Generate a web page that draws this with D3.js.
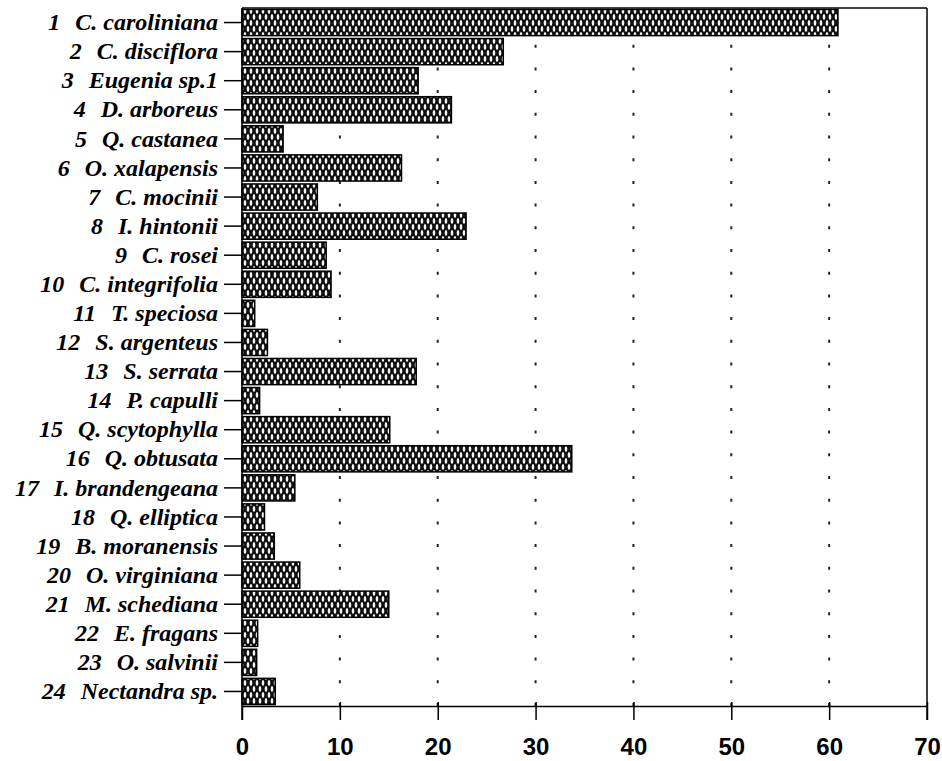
<!DOCTYPE html>
<html>
<head>
<meta charset="utf-8">
<script src="https://cdn.jsdelivr.net/npm/d3@7"></script>
<style>
  html, body { margin: 0; padding: 0; background: #fff; }
  svg { display: block; }
</style>
</head>
<body>
<script>
// Species (numbered as in the survey list) and their values
const speciesNumbers = ["1","2","3","4","5","6","7","8","9","10","11","12","13","14","15","16","17","18","19","20","21","22","23","24"];
const speciesNames = ["C. caroliniana","C. disciflora","Eugenia sp.1","D. arboreus","Q. castanea","O. xalapensis","C. mocinii","I. hintonii","C. rosei","C. integrifolia","T. speciosa","S. argenteus","S. serrata","P. capulli","Q. scytophylla","Q. obtusata","I. brandengeana","Q. elliptica","B. moranensis","O. virginiana","M. schediana","E. fragans","O. salvinii","Nectandra sp."];
const values = [60.9, 26.7, 18.0, 21.4, 4.2, 16.3, 7.7, 22.9, 8.6, 9.1, 1.3, 2.6, 17.8, 1.8, 15.1, 33.7, 5.4, 2.3, 3.3, 5.9, 15.0, 1.6, 1.5, 3.4];
const xTicks = [0, 10, 20, 30, 40, 50, 60, 70];
const gridTicks = [10, 20, 30, 40, 50, 60];

const W = 942, H = 761;
const margin = { left: 242, right: 15, top: 8, bottom: 55 };
const innerW = W - margin.left - margin.right;
const innerH = H - margin.top - margin.bottom;

const svg = d3.select("body").append("svg").attr("width", W).attr("height", H);

// Cross-hatch fill for the bars: dark lattice with light diamonds
const defs = svg.append("defs");
const pat = defs.append("pattern")
  .attr("id", "hatch").attr("patternUnits", "userSpaceOnUse")
  .attr("width", 6).attr("height", 12);
pat.append("rect").attr("width", 6).attr("height", 12).attr("fill", "#111");
[[3, 3], [0, 9], [6, 9]].forEach(([cx, cy]) => {
  pat.append("ellipse").attr("cx", cx).attr("cy", cy).attr("rx", 1.3).attr("ry", 3.0).attr("fill", "#f4f4f4");
});

const rows = speciesNumbers.map((n, i) => ({ num: n, name: speciesNames[i], value: values[i] }));

const x = d3.scaleLinear().domain([0, 70]).range([0, innerW]);
const y = d3.scaleBand().domain(speciesNumbers).range([0, innerH]).paddingInner(0.1).paddingOuter(0.05);

const g = svg.append("g").attr("transform", `translate(${margin.left},${margin.top})`);

// Dotted reference lines
g.append("g").selectAll("line").data(gridTicks).join("line")
  .attr("x1", d => x(d)).attr("x2", d => x(d))
  .attr("y1", innerH).attr("y2", 0)
  .attr("stroke", "#222").attr("stroke-width", 2)
  .attr("stroke-dasharray", "3 19.7");

// Bars
g.append("g").selectAll("rect").data(rows).join("rect")
  .attr("x", x(0))
  .attr("y", d => y(d.num))
  .attr("width", d => x(d.value) - x(0))
  .attr("height", y.bandwidth())
  .attr("fill", "url(#hatch)")
  .attr("stroke", "#000").attr("stroke-width", 1.5);

// Frame: top and right edges
g.append("line").attr("x1", 0).attr("x2", innerW).attr("y1", 0).attr("y2", 0)
  .attr("stroke", "#000").attr("stroke-width", 1.5);
g.append("line").attr("x1", innerW).attr("x2", innerW).attr("y1", 0).attr("y2", innerH + 14)
  .attr("stroke", "#000").attr("stroke-width", 1.5);

// Bottom axis
const xAxis = g.append("g").attr("transform", `translate(0,${innerH})`)
  .call(d3.axisBottom(x).tickValues(xTicks).tickSize(14).tickSizeOuter(0).tickPadding(18));
xAxis.select(".domain").attr("stroke", "#000").attr("stroke-width", 1.5);
xAxis.selectAll(".tick line").attr("stroke", "#000").attr("stroke-width", 1.5).attr("y1", -4);
xAxis.selectAll(".tick text")
  .attr("font-family", "'Liberation Sans', Arial, sans-serif")
  .attr("font-weight", "bold").attr("font-size", 24).attr("fill", "#000");

// Left axis with numbered species labels
const yAxis = g.append("g")
  .call(d3.axisLeft(y).tickSize(18).tickSizeOuter(0).tickPadding(6).tickFormat(() => ""));
yAxis.select(".domain").attr("stroke", "#000").attr("stroke-width", 1.5)
  .attr("d", `M0,0V${innerH + 14}`);
yAxis.selectAll(".tick line").attr("stroke", "#000").attr("stroke-width", 1.5);
yAxis.selectAll(".tick text").each(function (d, i) {
  const t = d3.select(this)
    .attr("font-family", "'Liberation Serif', 'Times New Roman', serif")
    .attr("font-weight", "bold").attr("font-style", "italic")
    .attr("font-size", 24).attr("fill", "#000").attr("dy", "0.32em");
  t.append("tspan").text(rows[i].num);
  t.append("tspan").attr("dx", 15).text(rows[i].name);
});
</script>
</body>
</html>
